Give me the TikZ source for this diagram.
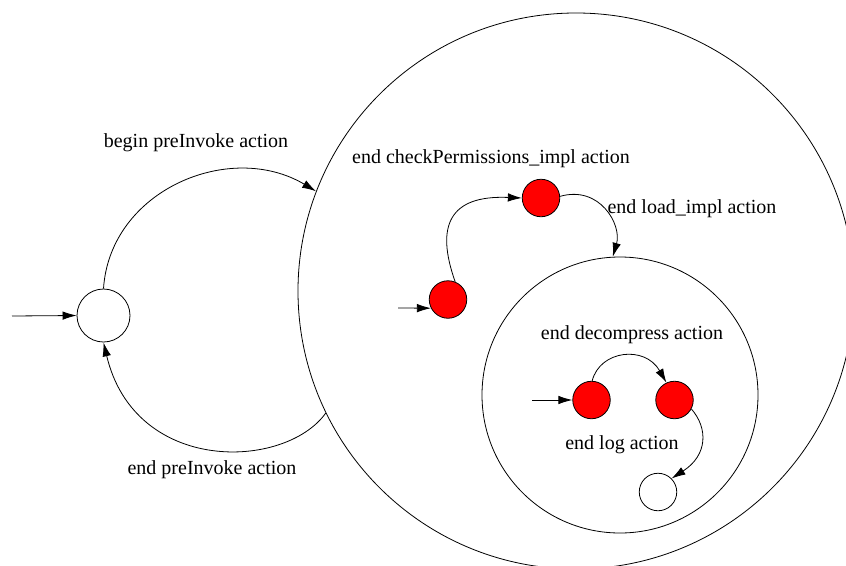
\documentclass[tikz,border=0pt]{standalone}
\usepackage{fontspec}
\newfontfamily\labelface{Liberation Serif}
\usetikzlibrary{arrows.meta}
\begin{document}
\begin{tikzpicture}[x=1pt,y=-1pt,
  state/.style={circle,draw,line width=0.8pt,inner sep=0pt},
  active/.style={state,fill=red,minimum size=37.5pt},
  region/.style={circle,draw,line width=0.8pt,inner sep=0pt},
  trans/.style={line width=0.8pt,-{Latex[length=14pt,width=8.5pt]}},
  lbl/.style={font=\labelface\fontsize{20}{22}\selectfont,inner sep=0pt}]
\useasboundingbox (0,0) rectangle (846,565);

% composite states
\node[region,minimum size=556pt] (outer) at (576,291) {};
\node[region,minimum size=276pt] (inner) at (620,395) {};

% simple states
\node[state,minimum size=53pt] (init) at (103.5,315.5) {};
\node[active] (r1) at (448,299.5) {};
\node[active] (r2) at (541,198) {};
\node[active] (r3) at (591.5,400) {};
\node[active] (r4) at (674.5,400) {};
\node[state,minimum size=37.5pt] (fin) at (658,492) {};

% initial pseudo-transitions
\coordinate (s0) at (12,316);
\coordinate (s1) at (398,308);
\coordinate (s2) at (532,400);
\draw[trans] (s0) -- (init.west);
\draw[trans] (s1) -- (r1.207);
\draw[trans] (s2) -- (r3.west);

% transitions
\draw[trans] (init.north) .. controls (110,190) and (230,140) .. (outer.159);
\draw[trans] (outer.206) .. controls (285,470) and (135,475) .. (init.south);
\draw[trans] (r1.68) .. controls (435,225) and (450,195) .. (r2.west);
\draw[trans] (r2.5) .. controls (600,185) and (622,225) .. (inner.93);
\draw[trans] (r3.88) .. controls (600,350) and (645,345) .. (r4.115);
\draw[trans] (r4.-28) .. controls (708,428) and (708,455) .. (fin.45);

% labels
\node[lbl] (l1) at (196,143) {begin preInvoke action};
\node[lbl] (l2) at (212,470) {end preInvoke action};
\node[lbl] (l3) at (491,159) {end checkPermissions\_impl action};
\node[lbl] (l4) at (692,209) {end load\_impl action};
\node[lbl] (l5) at (632,335) {end decompress action};
\node[lbl] (l6) at (622,445) {end log action};
\end{tikzpicture}
\end{document}
